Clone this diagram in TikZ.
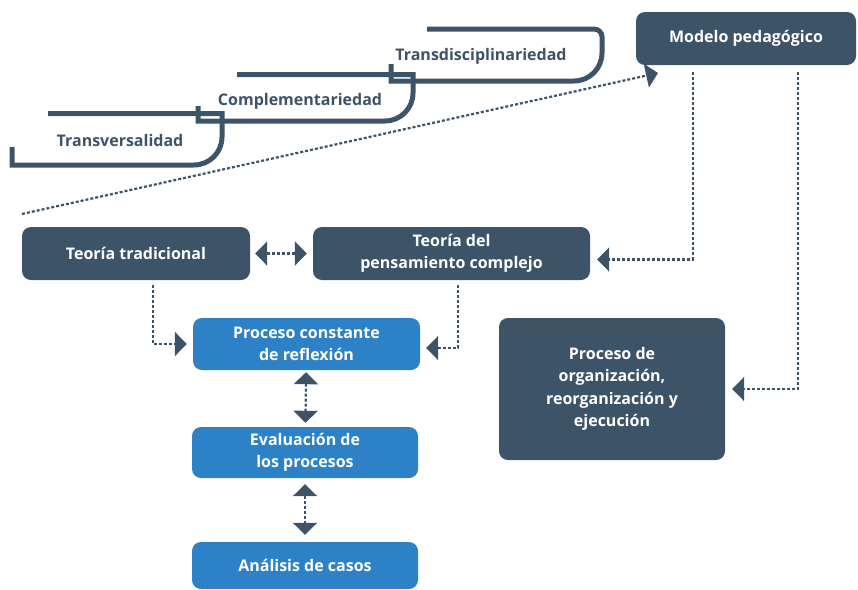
\documentclass[tikz,border=0pt]{standalone}
\usepackage{fontspec}
\setmainfont{Open Sans}
\usepackage{tikz}
\usetikzlibrary{arrows.meta}

\definecolor{pizarra}{RGB}{61,83,104}
\definecolor{celeste}{RGB}{45,130,199}

\begin{document}
\begin{tikzpicture}[x=1pt, y=-1pt,
    caja/.style={rectangle, rounded corners=9pt, fill=pizarra, text=white,
        font=\bfseries\fontsize{16}{22.5}\selectfont, align=center, inner sep=0pt},
    cajaazul/.style={caja, fill=celeste},
    escalon/.style={draw=pizarra, line width=5pt},
    etiqueta/.style={text=pizarra, font=\bfseries\fontsize{16}{18}\selectfont},
    flecha/.style={draw=pizarra, line width=2.2pt, dash pattern=on 3pt off 2pt,
        -{Triangle[length=12pt, width=24pt]}},
    doble/.style={flecha, {Triangle[length=12pt, width=24pt]}-{Triangle[length=12pt, width=24pt]}}]
    \useasboundingbox (0,0) rectangle (858,589);

    % escalones
    \draw[escalon] (12,147) -- (12,165) [rounded corners=28pt] -- (222,165) [sharp corners] -- (222,113.5) -- (48,113.5);
    \draw[escalon] (198,106) -- (198,121) [rounded corners=28pt] -- (413,121) [sharp corners] -- (413,74.5) -- (237,74.5);
    \draw[escalon] (391,64) -- (391,81) [rounded corners=28pt] -- (602,81) [rounded corners=8pt] -- (602,29) [sharp corners] -- (427,29);

    \node[etiqueta] (transv) at (120,140) {Transversalidad};
    \node[etiqueta] (complem) at (300,101) {Complementariedad};
    \node[etiqueta] (transd) at (481,56) {Transdisciplinariedad};

    % cajas
    \node[caja, minimum width=220pt, minimum height=53pt] (modelo) at (746,38.5) {Modelo pedagógico};
    \node[caja, minimum width=228pt, minimum height=53pt] (trad) at (136,253.5) {Teoría tradicional};
    \node[caja, minimum width=277pt, minimum height=53pt] (compl) at (451.5,253.5) {Teoría del\\pensamiento complejo};
    \node[caja, minimum width=226pt, minimum height=142pt] (org) at (612,389) {Proceso de\\organización,\\reorganización y\\ejecución};
    \node[cajaazul, minimum width=227pt, minimum height=52pt] (refl) at (306.5,344) {Proceso constante\\de reflexión};
    \node[cajaazul, minimum width=226pt, minimum height=51pt] (eval) at (305,452.5) {Evaluación de\\los procesos};
    \node[cajaazul, minimum width=226pt, minimum height=47pt] (casos) at (305,565.5) {Análisis de casos};

    \coordinate (ini) at (22,214);
    \coordinate (punta) at (658,73);

    % conectores
    \draw[flecha] (ini) -- (punta);
    \draw[doble, shorten <=5pt, shorten >=6pt] (trad) -- (compl);
    \draw[flecha, shorten >=6pt] ([xshift=17pt, yshift=-5pt]trad.south) |- (refl.west);
    \draw[flecha, shorten >=6pt] ([xshift=6.5pt, yshift=-5pt]compl.south) |- ([yshift=-4pt]refl.east);
    \draw[doble, shorten <=2pt, shorten >=4pt] (refl) -- (eval);
    \draw[doble, shorten <=6pt, shorten >=7pt] (eval) -- (casos);
    \draw[flecha, shorten >=7pt] ([xshift=-53pt, yshift=-7pt]modelo.south) |- ([yshift=-6pt]compl.east);
    \draw[flecha, shorten >=7pt] ([xshift=52pt, yshift=-7pt]modelo.south) |- (org.east);

\end{tikzpicture}
\end{document}
